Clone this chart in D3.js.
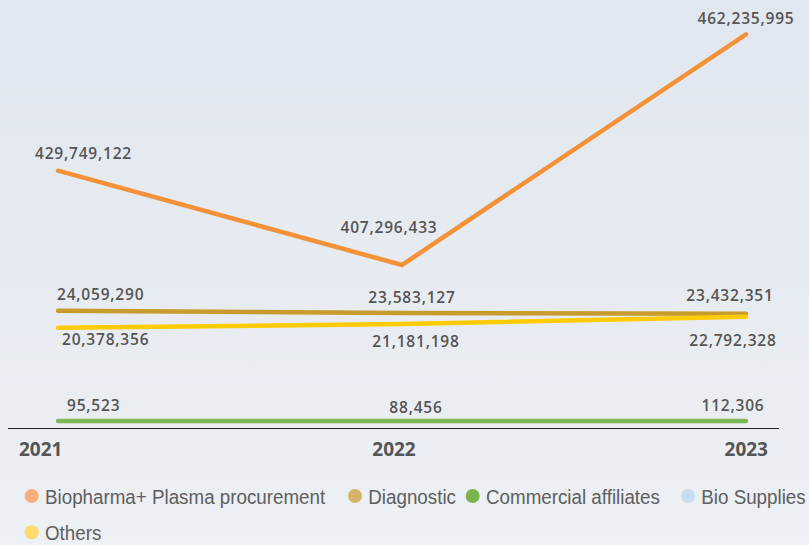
<!DOCTYPE html>
<html>
<head>
<meta charset="utf-8">
<script src="https://cdn.jsdelivr.net/npm/d3@7"></script>
<style>
  html, body { margin: 0; padding: 0; }
  body { width: 809px; height: 545px; overflow: hidden; }
</style>
</head>
<body>
<div id="chart"></div>
<script>
// Chart data
const years = ['2021', '2022', '2023'];
const biopharma = [429749122, 407296433, 462235995];
const diagnostic = [24059290, 23583127, 23432351];
const commercial = [95523, 88456, 112306];
const bioSupplies = [null, null, null];
const others = [20378356, 21181198, 22792328];

const seriesNames = ['Biopharma+ Plasma procurement', 'Diagnostic', 'Commercial affiliates', 'Bio Supplies', 'Others'];

// Layout / style
const W = 809, H = 545;
const lineColors = ['#f39238', '#c89b2d', '#7cb857', '#c6ddf1', '#ffcb05'];
const dotColors = ['#f7ae7c', '#d6b36a', '#7ab44e', '#c6ddf1', '#fed96c'];

// label offsets [dx, dy, anchor] for each year
const labelPos = [
    [[-23, -12, 'start'], [-13, -32, 'middle'], [0, -10, 'middle']],
    [[-1, -11, 'start'], [10, -10, 'middle'], [-16, -13, 'middle']],
    [[9, -10.5, 'start'], [14, -8, 'middle'], [-13, -9.5, 'middle']],
    [[0, 0, 'start'], [0, 0, 'middle'], [0, 0, 'middle']],
    [[4, 17.5, 'start'], [14, 22.6, 'middle'], [-13, 29, 'middle']]
];

const seriesValues = [biopharma, diagnostic, commercial, bioSupplies, others];
const series = seriesNames.map((name, i) => ({
    name: name,
    idx: i,
    values: seriesValues[i].map((v, j) => ({ year: years[j], value: v, j: j }))
}));

const svg = d3.select('#chart')
    .append('svg')
    .attr('width', W)
    .attr('height', H);

// background gradient
const defs = svg.append('defs');
const grad = defs.append('linearGradient')
    .attr('id', 'bg')
    .attr('x1', 0).attr('y1', 0).attr('x2', 0).attr('y2', 1);
grad.append('stop').attr('offset', '0%').attr('stop-color', '#e1e7ef');
grad.append('stop').attr('offset', '100%').attr('stop-color', '#edf0f4');
svg.append('rect').attr('width', W).attr('height', H).attr('fill', 'url(#bg)');

// scales: broken value axis (small series below, large series above)
const x = d3.scalePoint().domain(years).range([58, 746]);
const y = d3.scaleLinear()
    .domain([0, 25e6, 400e6, 470e6])
    .range([421.5, 306.5, 295.6, 1.7]);

// baseline
svg.append('line')
    .attr('x1', 8).attr('x2', 779)
    .attr('y1', 428.5).attr('y2', 428.5)
    .attr('stroke', '#222')
    .attr('stroke-width', 1.2);

// year labels
const yearOffsets = [[-39, 'start'], [-8, 'middle'], [22, 'end']];
svg.selectAll('.year')
    .data(years)
    .enter()
    .append('text')
    .attr('class', 'year')
    .attr('x', (d, i) => x(d) + yearOffsets[i][0])
    .attr('y', 455.5)
    .attr('text-anchor', (d, i) => yearOffsets[i][1])
    .attr('font-family', 'Open Sans')
    .attr('font-weight', 700)
    .attr('font-size', '19px')
    .attr('fill', '#555')
    .text(d => d);

const line = d3.line()
    .defined(d => d.value != null)
    .x(d => x(d.year))
    .y(d => y(d.value));

// draw order: orange, diagnostic, green, others
const drawOrder = [0, 1, 2, 4];
svg.selectAll('.series-line')
    .data(drawOrder.map(i => series[i]))
    .enter()
    .append('path')
    .attr('class', 'series-line')
    .attr('d', d => line(d.values))
    .attr('fill', 'none')
    .attr('stroke', d => lineColors[d.idx])
    .attr('stroke-width', 4.5)
    .attr('stroke-linecap', 'round')
    .attr('stroke-linejoin', 'miter');

// value labels
const fmt = d3.format(',');
series.forEach(s => {
    svg.selectAll('.lbl-' + s.idx)
        .data(s.values.filter(d => d.value != null))
        .enter()
        .append('text')
        .attr('x', d => x(d.year) + labelPos[s.idx][d.j][0])
        .attr('y', d => y(d.value) + labelPos[s.idx][d.j][1])
        .attr('text-anchor', d => labelPos[s.idx][d.j][2])
        .attr('font-family', 'Open Sans')
        .attr('font-weight', 600)
        .attr('font-size', '15.5px')
        .attr('letter-spacing', '0.8px')
        .attr('fill', '#555')
        .text(d => fmt(d.value));
});

// legend
const legendPos = [[31.7, 496], [355, 496], [472.7, 496], [688, 496], [31.7, 532.3]];
const legend = svg.selectAll('.legend')
    .data(series)
    .enter()
    .append('g')
    .attr('class', 'legend')
    .attr('transform', (d, i) => `translate(${legendPos[i][0]},${legendPos[i][1]})`);

legend.append('circle')
    .attr('r', 7)
    .attr('fill', d => dotColors[d.idx]);

legend.append('text')
    .attr('transform', 'translate(13.3,7.5) scale(0.895,1)')
    .attr('font-family', 'Liberation Sans, Arial, sans-serif')
    .attr('font-size', '21px')
    .attr('fill', '#5e5e5e')
    .text(d => d.name);
</script>
</body>
</html>
